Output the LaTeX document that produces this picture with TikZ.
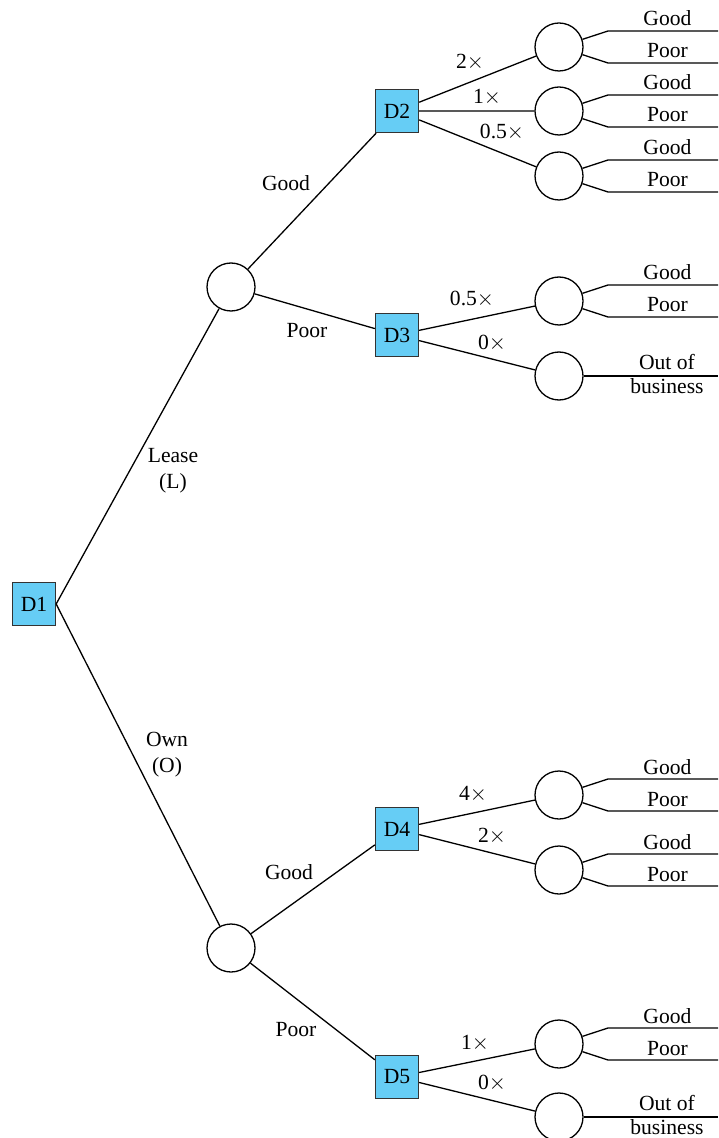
\documentclass[tikz,border=0pt]{standalone}
\usepackage{fontspec}
\setmainfont{Liberation Serif}
\definecolor{boxblue}{RGB}{102,205,245}
\begin{document}
\begin{tikzpicture}[x=0.5pt,y=-0.5pt,line width=0.65pt,
		font=\fontsize{10.8}{13}\selectfont,
		decision/.style={draw=black!80,fill=boxblue,minimum size=21.5pt,inner sep=0pt},
		chance/.style={draw,circle,minimum size=24pt,inner sep=0pt},
		leaflabel/.style={anchor=base,yshift=2.5pt,pos=0.54}]
		\useasboundingbox (0,0) rectangle (718,1138);
		\newcommand{\goodpoor}[1]{\draw (#1) -- ++(49,-16) coordinate (#1u) -- node[leaflabel] (#1g) {Good} ++(110,0);
			\draw (#1) -- ++(49,16) coordinate (#1l) -- node[leaflabel] (#1p) {Poor} ++(110,0);}
		\newcommand{\outleaf}[1]{\draw (#1) -- ++(159,0) node[pos=0.62,align=center,yshift=1pt] (#1o) {Out of\\[-1.2pt]business};}
		
		\node[decision] (D1) at ( 34, 604) {D1};
		\node[chance]   (C1) at (231, 287) {};
		\node[chance]   (C2) at (231, 948) {};
		\node[decision] (D2) at (397, 111) {D2};
		\node[decision] (D3) at (397, 335) {D3};
		\node[decision] (D4) at (397, 829) {D4};
		\node[decision] (D5) at (397,1077) {D5};
		
		\node[chance] (D2a) at (559,  47) {}; \goodpoor{D2a}
		\node[chance] (D2b) at (559, 111) {}; \goodpoor{D2b}
		\node[chance] (D2c) at (559, 176) {}; \goodpoor{D2c}
		\node[chance] (D3a) at (559, 301) {}; \goodpoor{D3a}
		\node[chance] (D3b) at (559, 376) {}; \outleaf{D3b}
		\node[chance] (D4a) at (559, 795) {}; \goodpoor{D4a}
		\node[chance] (D4b) at (559, 870) {}; \goodpoor{D4b}
		\node[chance] (D5a) at (559,1044) {}; \goodpoor{D5a}
		\node[chance] (D5b) at (559,1117) {}; \outleaf{D5b}
		
		\draw (D1.east)--(C1) (D1.east)--(C2)
		(C1)--(D2) (C1)--(D3) (C2)--(D4) (C2)--(D5)
		(D2)--(D2a) (D2)--(D2b) (D2)--(D2c)
		(D3)--(D3a) (D3)--(D3b)
		(D4)--(D4a) (D4)--(D4b)
		(D5)--(D5a) (D5)--(D5b);
		
		\node[align=center] (lease) at (173, 471) {Lease\\(L)};
		\node[align=center] (own)   at (167, 755) {Own\\(O)};
		\node (C1good) at (286, 183) {Good};
		\node (C1poor) at (307, 331) {Poor};
		\node (C2good) at (289, 872) {Good};
		\node (C2poor) at (296,1030) {Poor};
		
		\node (D2x2)  at (470,  62) {2$\times$};
		\node (D2x1)  at (487,  97) {1$\times$};
		\node (D2x05) at (502, 132) {0.5$\times$};
		\node (D3x05) at (472, 299) {0.5$\times$};
		\node (D3x0)  at (492, 343) {0$\times$};
		\node (D4x4)  at (473, 794) {4$\times$};
		\node (D4x2)  at (492, 836) {2$\times$};
		\node (D5x1)  at (475,1043) {1$\times$};
		\node (D5x0)  at (492,1083) {0$\times$};
	\end{tikzpicture}
\end{document}
